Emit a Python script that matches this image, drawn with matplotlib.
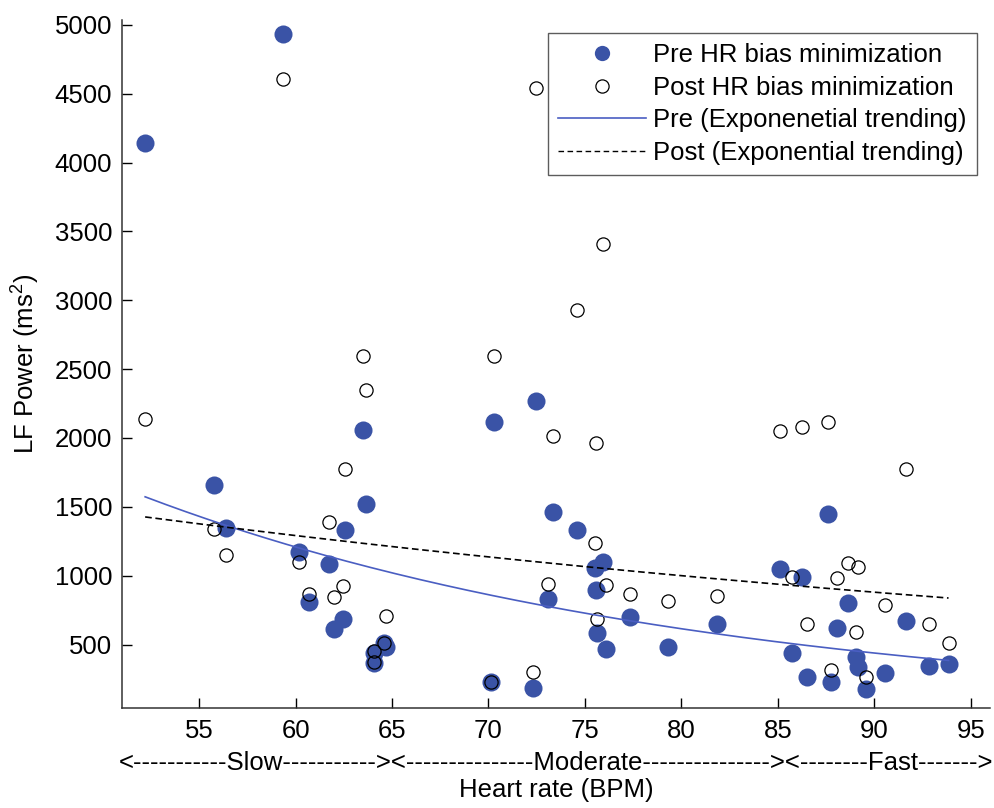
import numpy as np
import matplotlib
matplotlib.use("Agg")
import matplotlib.pyplot as plt
from matplotlib.lines import Line2D

# heart rate (BPM) and LF power (ms^2) before / after HR bias minimization
hr = [52.2, 55.75, 56.4, 59.33, 60.19, 60.68, 61.75, 62.01, 62.44, 62.58,
      63.48, 63.66, 64.04, 64.04, 64.6, 64.7, 70.15, 70.29, 72.31, 72.45,
      73.06, 73.35, 74.57, 75.52, 75.55, 75.64, 75.93, 76.09, 77.34, 79.33,
      81.84, 85.13, 85.75, 86.26, 86.5, 87.6, 87.78, 88.09, 88.63, 89.03,
      89.16, 89.57, 90.56, 91.66, 92.86, 93.85]
lf_pre = [4139, 1656, 1346, 4931, 1169, 808, 1084, 614, 684, 1329,
          2060, 1522, 437, 369, 515, 480, 227, 2113, 183, 2270,
          830, 1462, 1334, 1055, 893, 583, 1103, 469, 699, 486,
          650, 1048, 442, 990, 267, 1448, 231, 619, 801, 408,
          340, 178, 292, 675, 347, 357]
lf_post = [2140, 1341, 1152, 4604, 1103, 868, 1387, 844, 927, 1777,
           2598, 2351, 456, 376, 510, 711, 227, 2593, 299, 4541,
           941, 2017, 2932, 1237, 1963, 687, 3412, 932, 868, 820,
           856, 2048, 994, 2080, 648, 2113, 316, 982, 1096, 595,
           1062, 267, 788, 1777, 650, 510]

xlabel_lines = ["<" + "-" * 11 + "Slow" + "-" * 11 + "><" + "-" * 15 + "Moderate"
                + "-" * 15 + "><" + "-" * 8 + "Fast" + "-" * 7 + ">",
                "Heart rate (BPM)"]


def exp_fit(x, y):
    # exponential trend y = a*exp(b*x), fitted on log(y)
    b, ln_a = np.polyfit(x, np.log(y), 1)
    return np.exp(ln_a), b


plt.rcParams['font.family'] = ['Liberation Sans', 'DejaVu Sans']
plt.rcParams['mathtext.default'] = 'regular'

x = np.array(hr)
y1 = np.array(lf_pre, dtype=float)
y2 = np.array(lf_post, dtype=float)
xs = np.linspace(x.min(), x.max(), 200)

fig = plt.figure(figsize=(9.95, 8.08), dpi=100)
ax = fig.add_axes([0.1226, 0.1238, 0.8724, 0.8515])

blue = '#3a53a6'
line_blue = '#4a5ec2'
ax.plot(x, y1, 'o', color=blue, ms=13, mec='none', zorder=2)
ax.plot(x, y2, 'o', mfc='none', mec='black', ms=9.5, mew=0.9, zorder=3)

a1, b1 = exp_fit(x, y1)
a2, b2 = exp_fit(x, y2)
ax.plot(xs, a1 * np.exp(b1 * xs), '-', color=line_blue, lw=1.2, zorder=4)
ax.plot(xs, a2 * np.exp(b2 * xs), color='black', lw=1.2, ls=(0, (4, 2.2)), zorder=4)

ax.set_xlim(51, 96)
ax.set_ylim(40, 5035)
ax.set_xticks([55, 60, 65, 70, 75, 80, 85, 90, 95])
ax.set_yticks([500, 1000, 1500, 2000, 2500, 3000, 3500, 4000, 4500, 5000])
ax.spines['top'].set_visible(False)
ax.spines['right'].set_visible(False)
for s in ['left', 'bottom']:
    ax.spines[s].set_color('#333333')
    ax.spines[s].set_linewidth(1.1)
ax.tick_params(direction='in', labelsize=18.5, colors='black', length=7, width=1)
ax.tick_params(axis='x', pad=8)
ax.tick_params(axis='y', pad=7)

ax.set_ylabel('LF Power (ms$^2$)', fontsize=18.5, labelpad=9)
ax.set_xlabel("\n".join(xlabel_lines), fontsize=18.5, labelpad=6, linespacing=1.15)

handles = [
    Line2D([], [], ls='none', marker='o', color=blue, ms=11, mec='none'),
    Line2D([], [], ls='none', marker='o', mfc='none', mec='black', ms=9.5, mew=0.9),
    Line2D([], [], color=line_blue, lw=1.2),
    Line2D([], [], color='black', lw=1, ls=(0, (4, 2.5))),
]
labels = ['Pre HR bias minimization', 'Post HR bias minimization',
          'Pre (Exponenetial trending)', 'Post (Exponential trending)']
leg = ax.legend(handles, labels, loc='upper right', bbox_to_anchor=(0.985, 0.981),
                borderaxespad=0, fontsize=18.5, frameon=True, fancybox=False,
                handlelength=3.4, handletextpad=0.3, labelspacing=0.33,
                borderpad=0.4)
leg.get_frame().set_edgecolor('#333333')
leg.get_frame().set_linewidth(1)

fig.savefig('out.png', dpi=100)
